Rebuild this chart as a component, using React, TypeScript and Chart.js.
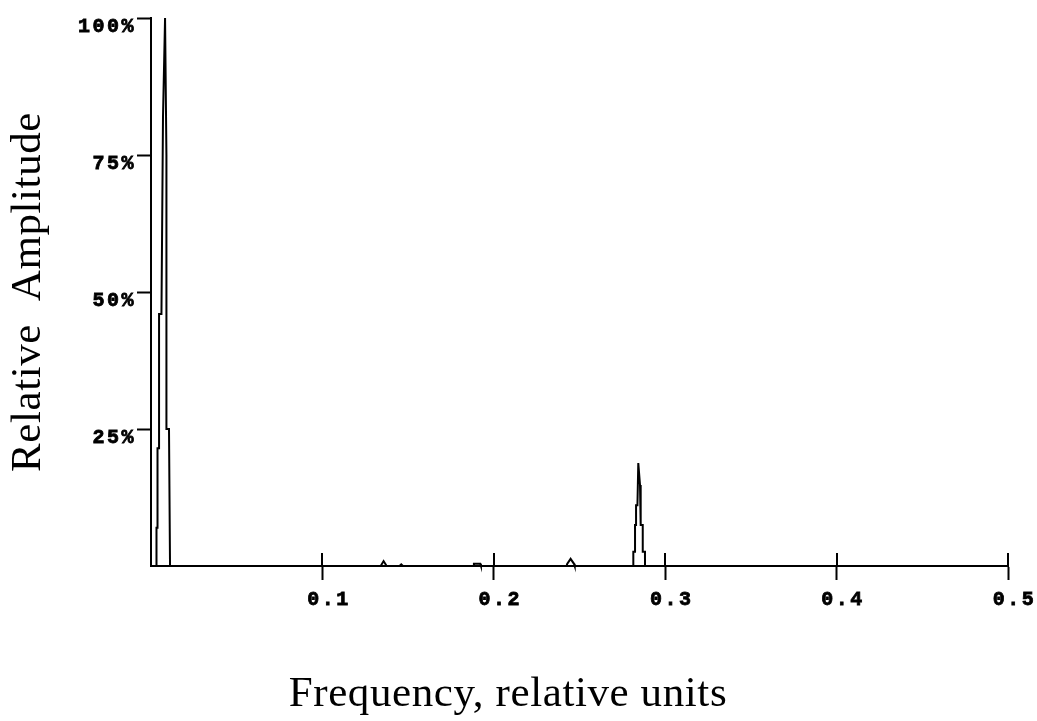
import React, { useEffect, useRef } from 'react';
import { Chart, registerables } from 'chart.js';

Chart.register(...registerables);

// Spectrum trace (frequency in relative units, amplitude in %)
const freq = [
  0, 0.0032, 0.0032, 0.0038, 0.0038, 0.0047, 0.0047, 0.0061, 0.007, 0.0082,
  0.0085, 0.009, 0.009, 0.0105, 0.0111,
  0.134, 0.1357, 0.1375,
  0.145, 0.146, 0.147,
  0.188, 0.1884, 0.1921, 0.1925,
  0.2425, 0.2428, 0.2448, 0.2468, 0.2472,
  0.2814, 0.2814, 0.2824, 0.2824, 0.283, 0.283, 0.2838, 0.2843, 0.2853, 0.2857,
  0.2857, 0.2869, 0.2869, 0.2882, 0.2882,
  0.5,
];
const amp = [
  0, 0, 7, 7, 21.5, 21.5, 46, 46, 82, 100,
  100, 75, 25, 25, 0,
  0, 0.9, 0,
  0, 0.3, 0,
  0, 0.4, 0.4, 0,
  0, 0.4, 1.3, 0.4, 0,
  0, 2.6, 2.6, 7.5, 7.5, 11.1, 11.1, 18.8, 14.8, 14.8,
  7.5, 7.5, 2.6, 2.6, 0,
  0,
];

const xTickValues = [0.1, 0.2, 0.3, 0.4, 0.5];
const xTickLabels = ['0.1', '0.2', '0.3', '0.4', '0.5'];
const yTickValues = [25, 50, 75, 100];
const yTickLabels = ['25%', '50%', '75%', '100%'];
const xTitle = 'Frequency, relative units';
const yTitle = 'Relative  Amplitude';

const TITLE_FONT = { family: '"Liberation Serif", serif', size: 43, weight: 'normal' as const };
const TICK_FONT = { family: '"Liberation Mono", monospace', size: 20, weight: 'bold' as const };

export default function App() {
  const ref = useRef<HTMLCanvasElement>(null);

  useEffect(() => {
    const canvas = ref.current;
    if (!canvas) return;

    const spacingPlugin = {
      id: 'spacingAndTicks',
      beforeDraw(chart: any) {
        chart.ctx.letterSpacing = '0.6px';
      },
      beforeDatasetsDraw(chart: any) {
        chart.ctx.letterSpacing = '0px';
      },
      afterDatasetsDraw(chart: any) {
        const { ctx, chartArea } = chart;
        const xs = chart.scales.x;
        ctx.save();
        ctx.strokeStyle = '#000';
        ctx.lineWidth = 2;
        ctx.beginPath();
        for (const v of xTickValues) {
          const px = Math.round(xs.getPixelForValue(v));
          ctx.moveTo(px, chartArea.bottom - 13);
          ctx.lineTo(px, chartArea.bottom);
        }
        ctx.stroke();
        ctx.restore();
        ctx.letterSpacing = '2.5px';
      },
      afterDraw(chart: any) {
        chart.ctx.letterSpacing = '0px';
      },
    };

    const chart = new Chart(canvas, {
      type: 'line',
      data: {
        datasets: [
          {
            data: freq.map((f, i) => ({ x: f, y: amp[i] })),
            borderColor: '#000',
            borderWidth: 2,
            pointRadius: 0,
            tension: 0,
            fill: false,
            clip: false as any,
          },
        ],
      },
      options: {
        responsive: false,
        animation: false,
        devicePixelRatio: 1,
        layout: { padding: { top: 18, right: 29, left: 8, bottom: 0 } },
        plugins: {
          legend: { display: false },
          tooltip: { enabled: false },
          title: {
            display: true,
            text: xTitle,
            position: 'bottom',
            color: '#000',
            font: TITLE_FONT,
            padding: { top: 0, bottom: 0 },
          },
        },
        scales: {
          x: {
            type: 'linear',
            min: 0,
            max: 0.5,
            afterBuildTicks: (scale: any) => {
              scale.ticks = xTickValues.map((value) => ({ value }));
            },
            afterFit: (scale: any) => {
              scale.height = 103.4;
              scale.paddingLeft = 0;
              scale.paddingRight = 0;
            },
            grid: {
              display: true,
              drawOnChartArea: false,
              drawTicks: true,
              tickLength: 14,
              tickWidth: 2,
              tickColor: '#000',
            },
            border: { display: true, color: '#000', width: 2 },
            ticks: {
              z: 1,
              color: '#000',
              textStrokeColor: '#000',
              textStrokeWidth: 0.8,
              font: TICK_FONT,
              padding: 8,
              labelOffset: 6.5,
              maxRotation: 0,
              autoSkip: false,
              callback: (_v: any, i: number) => xTickLabels[i],
            },
          },
          y: {
            type: 'linear',
            min: 0,
            max: 100,
            afterBuildTicks: (scale: any) => {
              scale.ticks = yTickValues.map((value) => ({ value }));
            },
            afterFit: (scale: any) => {
              scale.width = 143;
              scale.paddingTop = 0;
              scale.paddingBottom = 0;
            },
            grid: {
              display: true,
              drawOnChartArea: false,
              drawTicks: true,
              tickLength: 14,
              tickWidth: 2,
              tickColor: '#000',
            },
            border: { display: true, color: '#000', width: 2 },
            title: {
              display: true,
              text: yTitle,
              color: '#000',
              font: TITLE_FONT,
              padding: { top: -5, bottom: 0 },
            },
            ticks: {
              z: 1,
              color: '#000',
              textStrokeColor: '#000',
              textStrokeWidth: 0.8,
              font: TICK_FONT,
              padding: 1,
              labelOffset: 8.5,
              autoSkip: false,
              callback: (_v: any, i: number) => yTickLabels[i],
            },
          },
        },
      },
      plugins: [spacingPlugin],
    });

    return () => chart.destroy();
  }, []);

  return (
    <div style={{ position: 'fixed', left: 0, top: 0, width: 1037, height: 721, background: '#fff' }}>
      <canvas ref={ref} width={1037} height={721} style={{ display: 'block' }} />
    </div>
  );
}
